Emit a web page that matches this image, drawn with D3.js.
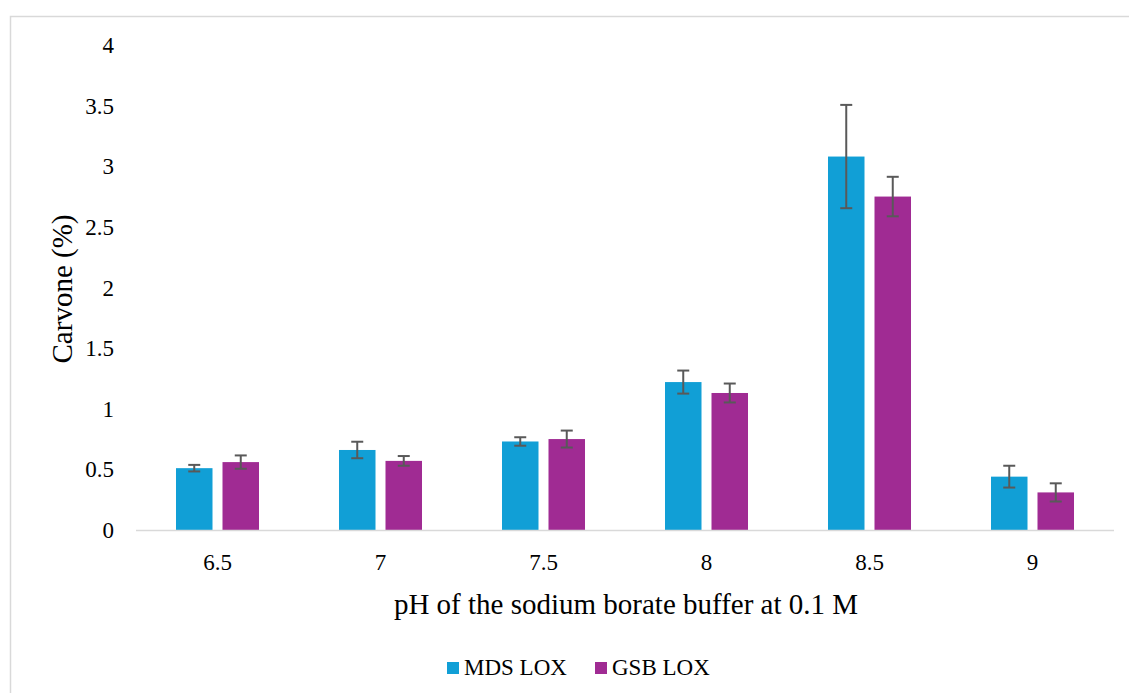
<!DOCTYPE html>
<html>
<head>
<meta charset="utf-8">
<script src="https://cdn.jsdelivr.net/npm/d3@7/dist/d3.min.js"></script>
<style>
  html, body { margin: 0; padding: 0; background: #fff; }
</style>
</head>
<body>
<svg id="chart" width="1129" height="693"></svg>
<script>
// data
var phLevels = ['6.5', '7', '7.5', '8', '8.5', '9'];
var seriesNames = ['MDS LOX', 'GSB LOX'];
var mdsValues = [0.51, 0.66, 0.73, 1.22, 3.08, 0.44];
var mdsErrors = [0.027, 0.068, 0.035, 0.095, 0.426, 0.09];
var gsbValues = [0.56, 0.57, 0.75, 1.13, 2.75, 0.31];
var gsbErrors = [0.055, 0.04, 0.07, 0.078, 0.163, 0.075];
var yTicks = [0, 0.5, 1, 1.5, 2, 2.5, 3, 3.5, 4];

var colors = ['#119fd6', '#a02b93'];
var serif = '"Liberation Serif"';

var svg = d3.select('#chart');
var plot = { left: 136, right: 1114, top: 45, bottom: 530 };

// outer frame (runs off the right and bottom edges)
svg.append('rect')
  .attr('x', 10.5)
  .attr('y', 16.5)
  .attr('width', 1130)
  .attr('height', 690)
  .attr('fill', 'none')
  .attr('stroke', '#d9d9d9')
  .attr('stroke-width', 1.5);

var x = d3.scaleBand()
  .domain(phLevels)
  .range([plot.left, plot.right]);

var xInner = d3.scaleBand()
  .domain(seriesNames)
  .range([0, x.bandwidth()])
  .paddingInner(0.215)
  .paddingOuter(0.86);

var y = d3.scaleLinear()
  .domain([0, 4])
  .range([plot.bottom, plot.top]);

// y tick labels
var yAxis = d3.axisLeft(y)
  .tickValues(yTicks)
  .tickSize(0)
  .tickPadding(0)
  .tickFormat(function(d) { return String(d); });

var gy = svg.append('g')
  .attr('transform', 'translate(114,0)')
  .call(yAxis);
gy.select('.domain').remove();
gy.attr('font-family', null).attr('font-size', null);
gy.selectAll('text')
  .style('font-family', serif)
  .style('font-size', '23px')
  .attr('fill', '#000')
  .attr('dy', '0.33em');

// x tick labels
var xAxis = d3.axisBottom(x).tickSize(0).tickPadding(0);
var gx = svg.append('g')
  .attr('transform', 'translate(0,' + plot.bottom + ')')
  .call(xAxis);
gx.select('.domain').remove();
gx.attr('font-family', null).attr('font-size', null);
gx.selectAll('text')
  .style('font-family', serif)
  .style('font-size', '23px')
  .attr('fill', '#000')
  .attr('y', 40)
  .attr('dy', 0);

// bars
var series = [
  { name: seriesNames[0], values: mdsValues, errors: mdsErrors, color: colors[0] },
  { name: seriesNames[1], values: gsbValues, errors: gsbErrors, color: colors[1] }
];

series.forEach(function(s) {
  var rows = phLevels.map(function(p, i) {
    return { ph: p, value: s.values[i], err: s.errors[i] };
  });

  svg.append('g').selectAll('rect')
    .data(rows)
    .enter().append('rect')
    .attr('x', function(d) { return x(d.ph) + xInner(s.name); })
    .attr('y', function(d) { return y(d.value); })
    .attr('width', xInner.bandwidth())
    .attr('height', function(d) { return y(0) - y(d.value); })
    .attr('fill', s.color);
});

// x axis line
svg.append('line')
  .attr('x1', plot.left)
  .attr('x2', plot.right)
  .attr('y1', plot.bottom + 0.5)
  .attr('y2', plot.bottom + 0.5)
  .attr('stroke', '#d9d9d9')
  .attr('stroke-width', 1.5);

// error bars
series.forEach(function(s) {
  var g = svg.append('g')
    .attr('stroke', '#595959')
    .attr('stroke-width', 2)
    .attr('fill', 'none');
  phLevels.forEach(function(p, i) {
    var cx = x(p) + xInner(s.name) + xInner.bandwidth() / 2;
    var yTop = y(s.values[i] + s.errors[i]);
    var yBot = y(s.values[i] - s.errors[i]);
    g.append('line').attr('x1', cx).attr('x2', cx).attr('y1', yTop).attr('y2', yBot);
    g.append('line').attr('x1', cx - 6).attr('x2', cx + 6).attr('y1', yTop).attr('y2', yTop);
    g.append('line').attr('x1', cx - 6).attr('x2', cx + 6).attr('y1', yBot).attr('y2', yBot);
  });
});

// axis titles
svg.append('text')
  .attr('transform', 'translate(72,289) rotate(-90)')
  .attr('text-anchor', 'middle')
  .style('font-family', serif)
  .style('font-size', '29px')
  .attr('fill', '#000')
  .text('Carvone (%)');

svg.append('text')
  .attr('x', 626)
  .attr('y', 614)
  .attr('text-anchor', 'middle')
  .style('font-family', serif)
  .style('font-size', '29px')
  .attr('fill', '#000')
  .text('pH of the sodium borate buffer at 0.1 M');

// legend
var legendX = [447, 595];
var legend = svg.append('g');
series.forEach(function(s, i) {
  legend.append('rect')
    .attr('x', legendX[i])
    .attr('y', 662)
    .attr('width', 12)
    .attr('height', 12)
    .attr('fill', s.color);
  legend.append('text')
    .attr('x', legendX[i] + 17)
    .attr('y', 675)
    .style('font-family', serif)
    .style('font-size', '23px')
    .attr('fill', '#000')
    .text(s.name);
});
</script>
</body>
</html>
